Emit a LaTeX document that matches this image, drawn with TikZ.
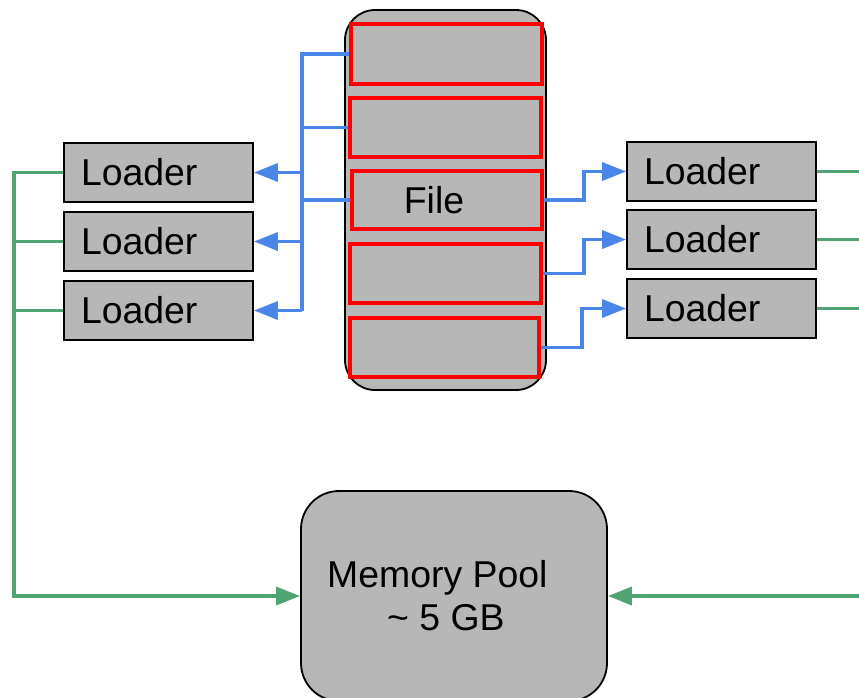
\documentclass[tikz,border=0pt]{standalone}
\usepackage{fontspec}
\setmainfont{Liberation Sans}
\usetikzlibrary{arrows.meta,calc}
\definecolor{boxgray}{HTML}{B7B7B7}
\definecolor{lineblue}{HTML}{4A86E8}
\definecolor{linegreen}{HTML}{50A373}
\begin{document}
\begin{tikzpicture}[x=1pt,y=-1pt,
  bigtxt/.style={font=\fontsize{37.4}{43}\selectfont},
  loaderbox/.style={draw=black, line width=1.8pt, fill=boxgray, minimum width=189pt, minimum height=59pt,
     inner xsep=17pt, inner ysep=0pt, text width=155pt, align=left, bigtxt},
  chunkbox/.style={draw=red, line width=3.5pt, fill=boxgray, minimum height=59pt, inner sep=0pt},
  blueline/.style={draw=lineblue, line width=3.5pt},
  greenline/.style={draw=linegreen, line width=3.5pt},
  headtip/.style={-{Triangle[length=24pt,width=18pt]}}
]
\useasboundingbox (0,0) rectangle (859,697);

% file container
\node[draw=black, line width=1.8pt, fill=boxgray, rounded corners=30pt, minimum width=201pt, minimum height=380pt, inner sep=0pt] (file) at (445.5,200) {};
\node[chunkbox, minimum width=191pt, minimum height=60pt] (c1) at (446.5,54) {};
\node[chunkbox, minimum width=191pt] (c2) at (445.5,127.5) {};
\node[chunkbox, minimum width=190pt, minimum height=58pt] (c3) at (447,200) {};
\node[chunkbox, minimum width=191pt] (c4) at (445.5,273.5) {};
\node[chunkbox, minimum width=189pt] (c5) at (444.5,347.5) {};
\node[bigtxt, inner sep=0pt] (filetxt) at (434,200) {File};

% loaders
\node[loaderbox] (L1) at (158.5,172.5) {Loader};
\node[loaderbox] (L2) at (158.5,241.5) {Loader};
\node[loaderbox] (L3) at (158.5,310.5) {Loader};
\node[loaderbox] (R1) at (721.5,171.5) {Loader};
\node[loaderbox] (R2) at (721.5,239.5) {Loader};
\node[loaderbox] (R3) at (721.5,308.5) {Loader};

% memory pool
\node[draw=black, line width=1.8pt, fill=boxgray, rounded corners=38pt, minimum width=306pt, minimum height=210pt, inner sep=0pt] (pool) at (454,596) {};
\node[bigtxt, align=left, inner sep=0pt, anchor=west] (pooltxt) at (327,596) {Memory Pool\\\hspace*{60pt}\textasciitilde\ 5 GB};

% blue bus on the left
\coordinate (btop) at (302,54);
\coordinate (bbot) at (302,310.5);
\draw[blueline] (c1.west) -- (btop) -- (bbot);
\draw[blueline] (c2.west) -- (c2.west -| btop);
\draw[blueline] (c3.west) -- (c3.west -| btop);
\draw[blueline, headtip] (btop |- L1.east) -- (L1.east);
\draw[blueline, headtip] (btop |- L2.east) -- (L2.east);
\draw[blueline, headtip] (bbot) -- (L3.east);

% blue steps on the right
\coordinate (j1) at (584,171.5);
\coordinate (j2) at (584,239.5);
\coordinate (j3) at (582,308.5);
\draw[blueline, headtip] (c3.east) -| (j1) -- (R1.west);
\draw[blueline, headtip] (c4.east) -| (j2) -- (R2.west);
\draw[blueline, headtip] (c5.east) -| (j3) -- (R3.west);

% green lines
\coordinate (gl) at (14,596);
\coordinate (ge) at (864,596);
\draw[greenline, headtip] (L1.west) -| (gl) -- (pool.west);
\draw[greenline] (L2.west) -- (L2.west -| gl);
\draw[greenline] (L3.west) -- (L3.west -| gl);
\draw[greenline] (R1.east) -- (R1.east -| ge);
\draw[greenline] (R2.east) -- (R2.east -| ge);
\draw[greenline] (R3.east) -- (R3.east -| ge);
\draw[greenline, headtip] (ge) -- (pool.east);
\end{tikzpicture}
\end{document}
